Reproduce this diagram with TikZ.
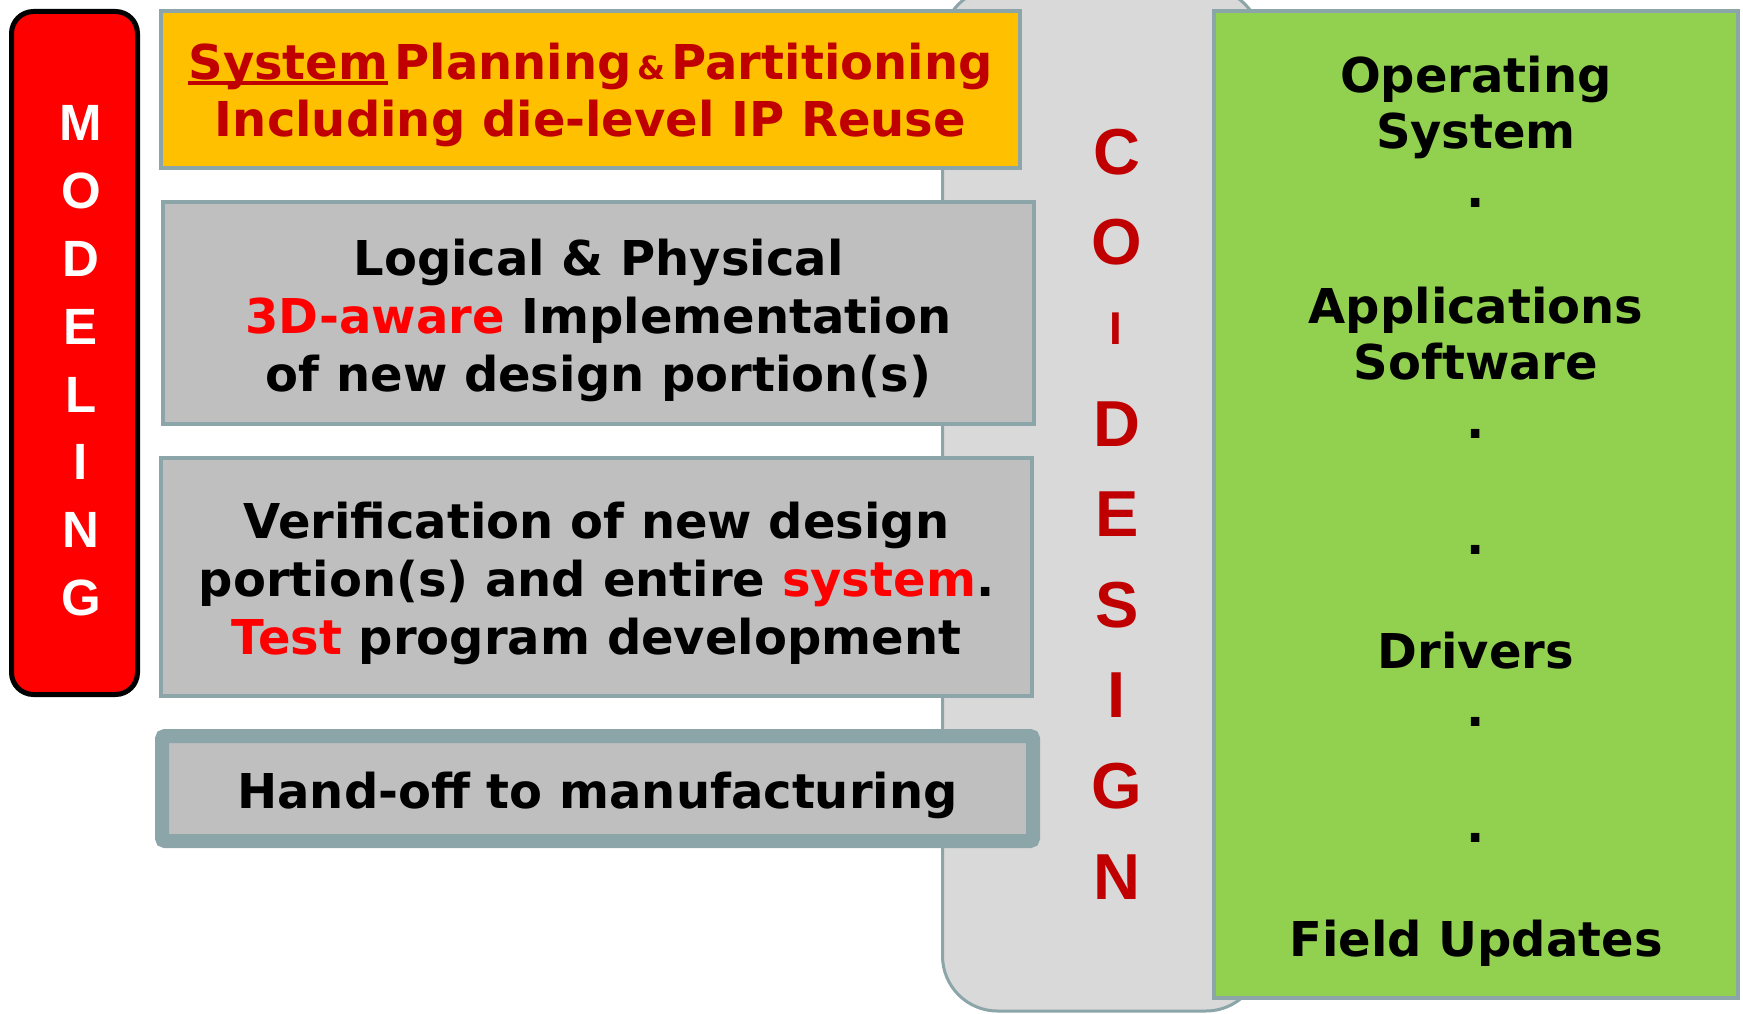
\documentclass[tikz,border=0pt]{standalone}
\usepackage{fontspec}
\setmainfont{DejaVu Sans}
\newfontfamily\capsfont{Liberation Sans}
\definecolor{edge}{RGB}{139,165,168}
\definecolor{planfill}{RGB}{255,192,0}
\definecolor{boxgray}{RGB}{191,191,191}
\definecolor{cogray}{RGB}{217,217,217}
\definecolor{swgreen}{RGB}{146,208,80}
\definecolor{darkred}{RGB}{192,0,0}
% thick underline for a word
\newcommand\thickul[1]{\setbox0\hbox{#1}\rlap{\rule[-5pt]{\wd0}{4pt}}\box0}
\begin{document}
\begin{tikzpicture}[x=1pt,y=-1pt,
  panel/.style={draw=edge, line width=4pt, inner sep=0pt},
  line/.style={anchor=base, inner sep=0pt, font=\fontsize{48}{58}\selectfont\bfseries},
  vletter/.style={inner sep=0pt, font=\capsfont\fontsize{51}{51}\selectfont\bfseries, text=white},
  cletter/.style={inner sep=0pt, font=\capsfont\fontsize{65}{65}\selectfont\bfseries, text=darkred}]
\useasboundingbox (0,0) rectangle (1743,1014);

% co-design band behind the flow boxes
\node[panel, line width=3pt, fill=cogray, rounded corners=55pt,
  minimum width=318.5pt, minimum height=1023pt] (codesign) at (1101.75,499.5) {};

% modeling bar
\node[draw=black, line width=5pt, fill=red, rounded corners=22pt, inner sep=0pt,
  minimum width=126pt, minimum height=683pt] (modeling) at (74.5,353) {};
\foreach \ch [count=\k from 0] in {M,O,D,E,L,I,N,G}
  \node[vletter] (mod-\k) at (81,123.4+67.8*\k) {\ch};

% design flow boxes
\node[panel, fill=planfill, minimum width=859pt, minimum height=157pt] (plan) at (590.5,89.5) {};
\node[panel, fill=boxgray, minimum width=871pt, minimum height=222pt] (impl) at (598.5,313) {};
\node[panel, fill=boxgray, minimum width=871pt, minimum height=238pt] (verif) at (596.5,577) {};
\node[panel, line width=14pt, rounded corners=3pt, fill=boxgray, minimum width=871pt, minimum height=105pt] (handoff) at (597.5,788.5) {};

% software stack
\node[panel, fill=swgreen, minimum width=524pt, minimum height=987pt] (software) at (1476,504.5) {};

% co-design letters
\foreach \ch [count=\k from 0] in {C,O,{},D,E,S,I,G,N}
  \node[cletter] (co-\k) at (1117,152+90.6*\k) {\ch};
\node[cletter, font=\capsfont\fontsize{46}{46}\selectfont\bfseries] (co-i) at (1116,329) {I};

% texts of the flow boxes
\node[line, text=darkred] (plan-a) at (590.5,80)
  {\thickul{System}\hspace{6pt}Planning\hspace{6pt}{\fontsize{32}{32}\selectfont\&}\hspace{6pt}Partitioning};
\node[line, text=darkred] (plan-b) at (590.5,137) {Including die-level IP Reuse};

\node[line] (impl-a) at (598.5,275) {Logical \& Physical};
\node[line] (impl-b) at (598.5,333) {\textcolor{red}{3D-aware} Implementation};
\node[line] (impl-c) at (598.5,391) {of new design portion(s)};

\node[line] (verif-a) at (596.5,538) {Verification of new design};
\node[line] (verif-b) at (596.5,596) {portion(s) and entire \textcolor{red}{system}.};
\node[line] (verif-c) at (596.5,654) {\textcolor{red}{Test} program development};

\node[line] (handoff-t) at (597.5,808) {Hand-off to manufacturing};

% texts of the software stack
\node[line] (os-a) at (1476,93) {Operating};
\node[line] (os-b) at (1476,149) {System};
\node[line] (dot-1) at (1476,207) {.};
\node[line] (app-a) at (1476,323) {Applications};
\node[line] (app-b) at (1476,379) {Software};
\node[line] (dot-2) at (1476,438) {.};
\node[line] (dot-3) at (1476,554) {.};
\node[line] (drv) at (1476,668) {Drivers};
\node[line] (dot-4) at (1476,726) {.};
\node[line] (dot-5) at (1476,842) {.};
\node[line] (upd) at (1476,956) {Field Updates};
\end{tikzpicture}
\end{document}
